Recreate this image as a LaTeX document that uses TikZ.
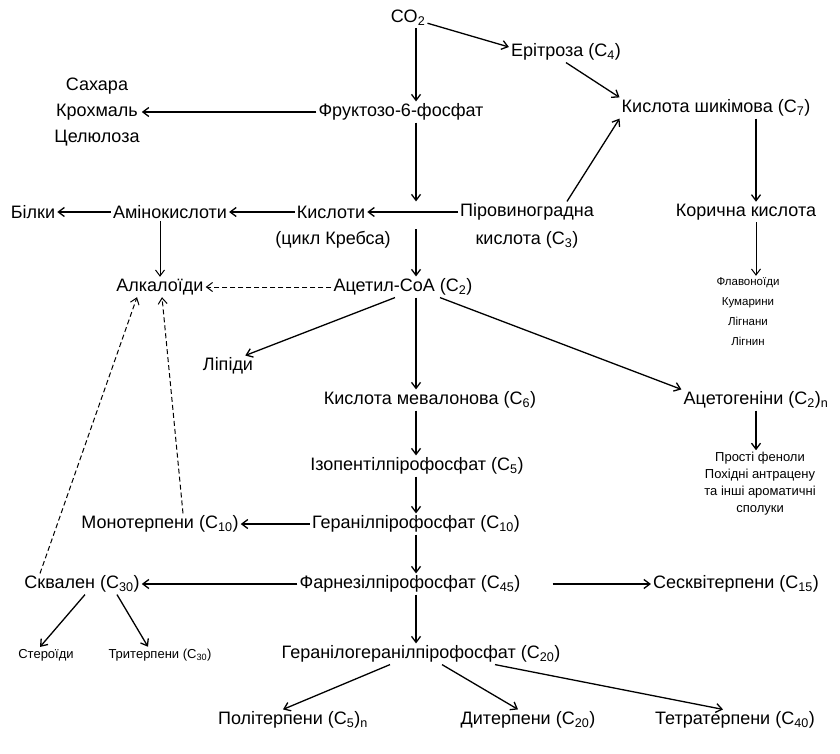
\documentclass[tikz,border=0pt]{standalone}
\usepackage{fontspec}
\setmainfont{Liberation Sans}
\usepackage{tikz}
\usetikzlibrary{arrows.meta}
\usetikzlibrary{positioning}

\begin{document}
\begin{tikzpicture}[x=1pt,y=-1pt]
\tikzstyle{txt}=[inner sep=2pt,align=center,font=\fontsize{18}{28}\selectfont]
\tikzstyle{small}=[inner sep=2pt,align=center,font=\fontsize{13}{17}\selectfont]
\tikzstyle{tiny}=[inner sep=2pt,align=center,font=\fontsize{11.5}{20}\selectfont]
\tikzstyle{arr}=[->,>={Straight Barb[length=6pt,width=9pt]},line width=1.3pt]
\tikzstyle{dasharr}=[arr,line width=1pt,dash pattern=on 5pt off 3pt]
\useasboundingbox (0,0) rectangle (840,754);
\coordinate (axis) at (416,0);
% top part
\node[txt] (co2) at (408,18) {CO\textsubscript{2}};
\node[txt] (eryth) at (566,52) {Ерітроза (C\textsubscript{4})};
\node[txt] (fruct) at (401,112) {Фруктозо-6-фосфат};
\node[txt,font=\fontsize{18}{26}\selectfont] (sugars) at (97,112) {Сахара\\Крохмаль\\Целюлоза};
\node[txt] (shik) at (716,108) {Кислота шикімова (C\textsubscript{7})};
% Krebs row
\node[txt] (bilky) at (33,212) {Білки};
\node[txt] (amino) at (170,212) {Амінокислоти};
\node[txt] (kysl) at (331,212) {Кислоти};
\node[txt] (krebs) at (333,240) {(цикл Кребса)};
\node[txt] (pyruv) at (527,226) {Піровиноградна\\кислота (C\textsubscript{3})};
\node[txt] (koric) at (746,212) {Корична кислота};
\node[tiny] (flav) at (748,312) {Флавоноїди\\Кумарини\\Лігнани\\Лігнин};
\node[txt] (alk) at (160,287) {Алкалоїди};
\node[txt] (acetyl) at (403,287) {Ацетил-CoA (C\textsubscript{2})};
\node[txt] (lipid) at (228,366) {Ліпіди};
% terpenes
\node[txt] (meval) at (430,400) {Кислота мевалонова (C\textsubscript{6})};
\node[txt] (acetog) at (756,400) {Ацетогеніни (C\textsubscript{2})\textsubscript{n}};
\node[small] (phenol) at (760,484) {Прості феноли\\Похідні антрацену\\та інші ароматичні\\сполуки};
\node[txt] (ipp) at (417,466) {Ізопентілпірофосфат (C\textsubscript{5})};
\node[txt] (mono) at (160,524) {Монотерпени (C\textsubscript{10})};
\node[txt] (gpp) at (416,524) {Геранілпірофосфат (C\textsubscript{10})};
\node[txt] (squal) at (82,584) {Сквален (C\textsubscript{30})};
\node[txt] (fpp) at (410,584) {Фарнезілпірофосфат (C\textsubscript{45})};
\node[txt] (sesq) at (736,584) {Сесквітерпени (C\textsubscript{15})};
\node[small] (steroid) at (46,655) {Стероїди};
\node[small] (triterp) at (160,655) {Тритерпени (C\textsubscript{30})};
\node[txt] (ggpp) at (421,654) {Геранілогеранілпірофосфат (C\textsubscript{20})};
\node[txt] (polyt) at (293,720) {Політерпени (C\textsubscript{5})\textsubscript{n}};
\node[txt] (diterp) at (528,720) {Дитерпени (C\textsubscript{20})};
\node[txt] (tetra) at (735,720) {Тетратерпени (C\textsubscript{40})};
% arrows
\draw[arr] (axis |- co2.south) -- (axis |- fruct.north);
\draw[arr] (co2.-15) -- (eryth.175);
\draw[arr] (eryth.south) -- (shik.north west);
\draw[arr] (fruct.west) -- (sugars.east);
\draw[arr] (axis |- fruct.south) -- (axis |- pyruv.north);
\draw[arr] ([xshift=40pt]pyruv.north) -- (shik.south west);
\draw[arr] ([xshift=40pt]shik.south) -- ([xshift=40pt]shik.south |- koric.north);
\draw[arr, line width=1pt] ([xshift=10pt]koric.south) -- ([xshift=10pt]koric.south |- flav.north);
\draw[arr] ([yshift=14pt]pyruv.west) -- (kysl.east);
\draw[arr] (kysl.west) -- (amino.east);
\draw[arr] (amino.west) -- (bilky.east);
\draw[arr, line width=1pt] (alk.north |- amino.south) -- (alk.north);
\draw[arr] (axis |- krebs.north) -- (axis |- acetyl.north);
\draw[dasharr] (acetyl.west) -- (alk.east);
\draw[arr] ([xshift=-8pt]acetyl.south) -- ([xshift=-10pt]lipid.north east);
\draw[arr] ([xshift=37pt]acetyl.south) -- (acetog.north west);
\draw[arr] (axis |- acetyl.south) -- (axis |- meval.north);
\draw[arr] (acetog.south) -- (acetog.south |- phenol.north);
\draw[arr] (axis |- meval.south) -- (axis |- ipp.north);
\draw[arr] (axis |- ipp.south) -- (axis |- gpp.north);
\draw[arr] (gpp.west) -- (mono.east);
\draw[arr] (axis |- gpp.south) -- (axis |- fpp.north);
\draw[dasharr] ([xshift=23pt]mono.north) -- ([xshift=2pt]alk.south);
\draw[dasharr] ([xshift=-42pt]squal.north) -- ([xshift=-23pt]alk.south);
\draw[arr] (fpp.west) -- (squal.east);
\draw[arr] ([xshift=30pt]fpp.east) -- (sesq.west);
\draw[arr] (axis |- fpp.south) -- (axis |- ggpp.north);
\draw[arr] ([xshift=3pt]squal.south) -- ([xshift=-6pt]steroid.north);
\draw[arr] ([xshift=35pt]squal.south) -- ([xshift=-12pt]triterp.north);
\draw[arr] ([xshift=-31pt]ggpp.south) -- ([xshift=-10pt]polyt.north);
\draw[arr] ([xshift=21pt]ggpp.south) -- ([xshift=-10pt]diterp.north);
\draw[arr] ([xshift=74pt]ggpp.south) -- ([xshift=-12pt]tetra.north);
\end{tikzpicture}
\end{document}
